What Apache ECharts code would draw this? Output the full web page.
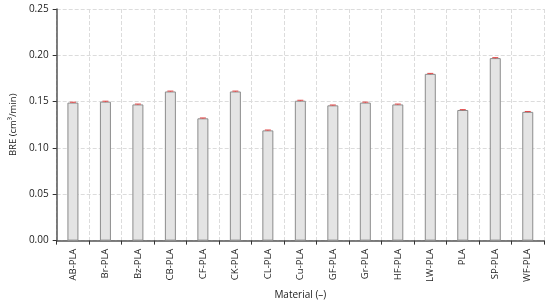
<!DOCTYPE html>
<html>
<head>
    <meta charset="utf-8">
    <script src="https://cdn.jsdelivr.net/npm/echarts@6/dist/echarts.min.js"></script>
</head>
<body style="margin:0">
    <div id="chart" style="width:550px;height:305px"></div>
    <script>
        const materials = ['AB-PLA', 'Br-PLA', 'Bz-PLA', 'CB-PLA', 'CF-PLA', 'CK-PLA', 'CL-PLA', 'Cu-PLA',
            'GF-PLA', 'Gr-PLA', 'HF-PLA', 'LW-PLA', 'PLA', 'SP-PLA', 'WF-PLA']
        const bre = [0.149, 0.150, 0.147, 0.161, 0.132, 0.161, 0.119, 0.151, 0.146, 0.149, 0.147, 0.180, 0.141, 0.197, 0.139]
        const err = [0.0004, 0.0005, 0.0004, 0.0004, 0.0004, 0.0004, 0.0004, 0.0005, 0.0004, 0.0005, 0.0004, 0.0005, 0.0004, 0.0005, 0.0004]

        const font = "'Open Sans', sans-serif"
        const chart = echarts.init(document.getElementById('chart'))
        chart.setOption({
            animation: false,
            textStyle: { fontFamily: font },
            grid: { left: 44, right: 6, top: 9, bottom: 57 },
            xAxis: {
                type: 'category',
                data: materials,
                name: 'Material (\u2013)',
                nameLocation: 'middle',
                nameGap: 46,
                nameTextStyle: { color: '#222', fontSize: 10, fontFamily: font },
                axisLine: { lineStyle: { color: '#555', width: 1.5 } },
                axisTick: { show: true, length: 4, lineStyle: { color: '#333' } },
                axisLabel: { rotate: 90, fontSize: 9.5, color: '#222', margin: 8, fontFamily: font },
                splitLine: { show: true, lineStyle: { color: '#dcdcdc', type: 'dashed' } }
            },
            yAxis: {
                type: 'value',
                min: 0,
                max: 0.25,
                interval: 0.05,
                name: 'BRE (cm\u00b3/min)',
                nameLocation: 'middle',
                nameGap: 35,
                nameTextStyle: { color: '#222', fontSize: 9.5, fontFamily: font },
                axisLine: { show: true, lineStyle: { color: '#555', width: 1.5 } },
                axisTick: { show: true, length: 4, lineStyle: { color: '#333' } },
                axisLabel: { fontSize: 10, color: '#222', fontFamily: font, formatter: v => v.toFixed(2) },
                splitLine: { lineStyle: { color: '#dcdcdc', type: 'dashed' } }
            },
            series: [{
                type: 'bar',
                data: bre,
                barWidth: 11,
                itemStyle: { color: '#e4e4e4', borderColor: '#8c8c8c', borderWidth: 1 }
            }, {
                type: 'custom',
                data: bre.map((v, i) => [i, v, err[i]]),
                renderItem: (params, api) => {
                    const x = api.coord([api.value(0), 0])[0]
                    const hi = api.coord([api.value(0), api.value(1) + api.value(2)])[1]
                    const lo = api.coord([api.value(0), api.value(1) - api.value(2)])[1]
                    const st = { stroke: '#e04848', lineWidth: 1 }
                    return {
                        type: 'group',
                        children: [
                            { type: 'line', shape: { x1: x - 3, y1: hi, x2: x + 3, y2: hi }, style: st },
                            { type: 'line', shape: { x1: x, y1: hi, x2: x, y2: lo }, style: st }
                        ]
                    }
                },
                z: 5
            }]
        })
    </script>
</body>
</html>
